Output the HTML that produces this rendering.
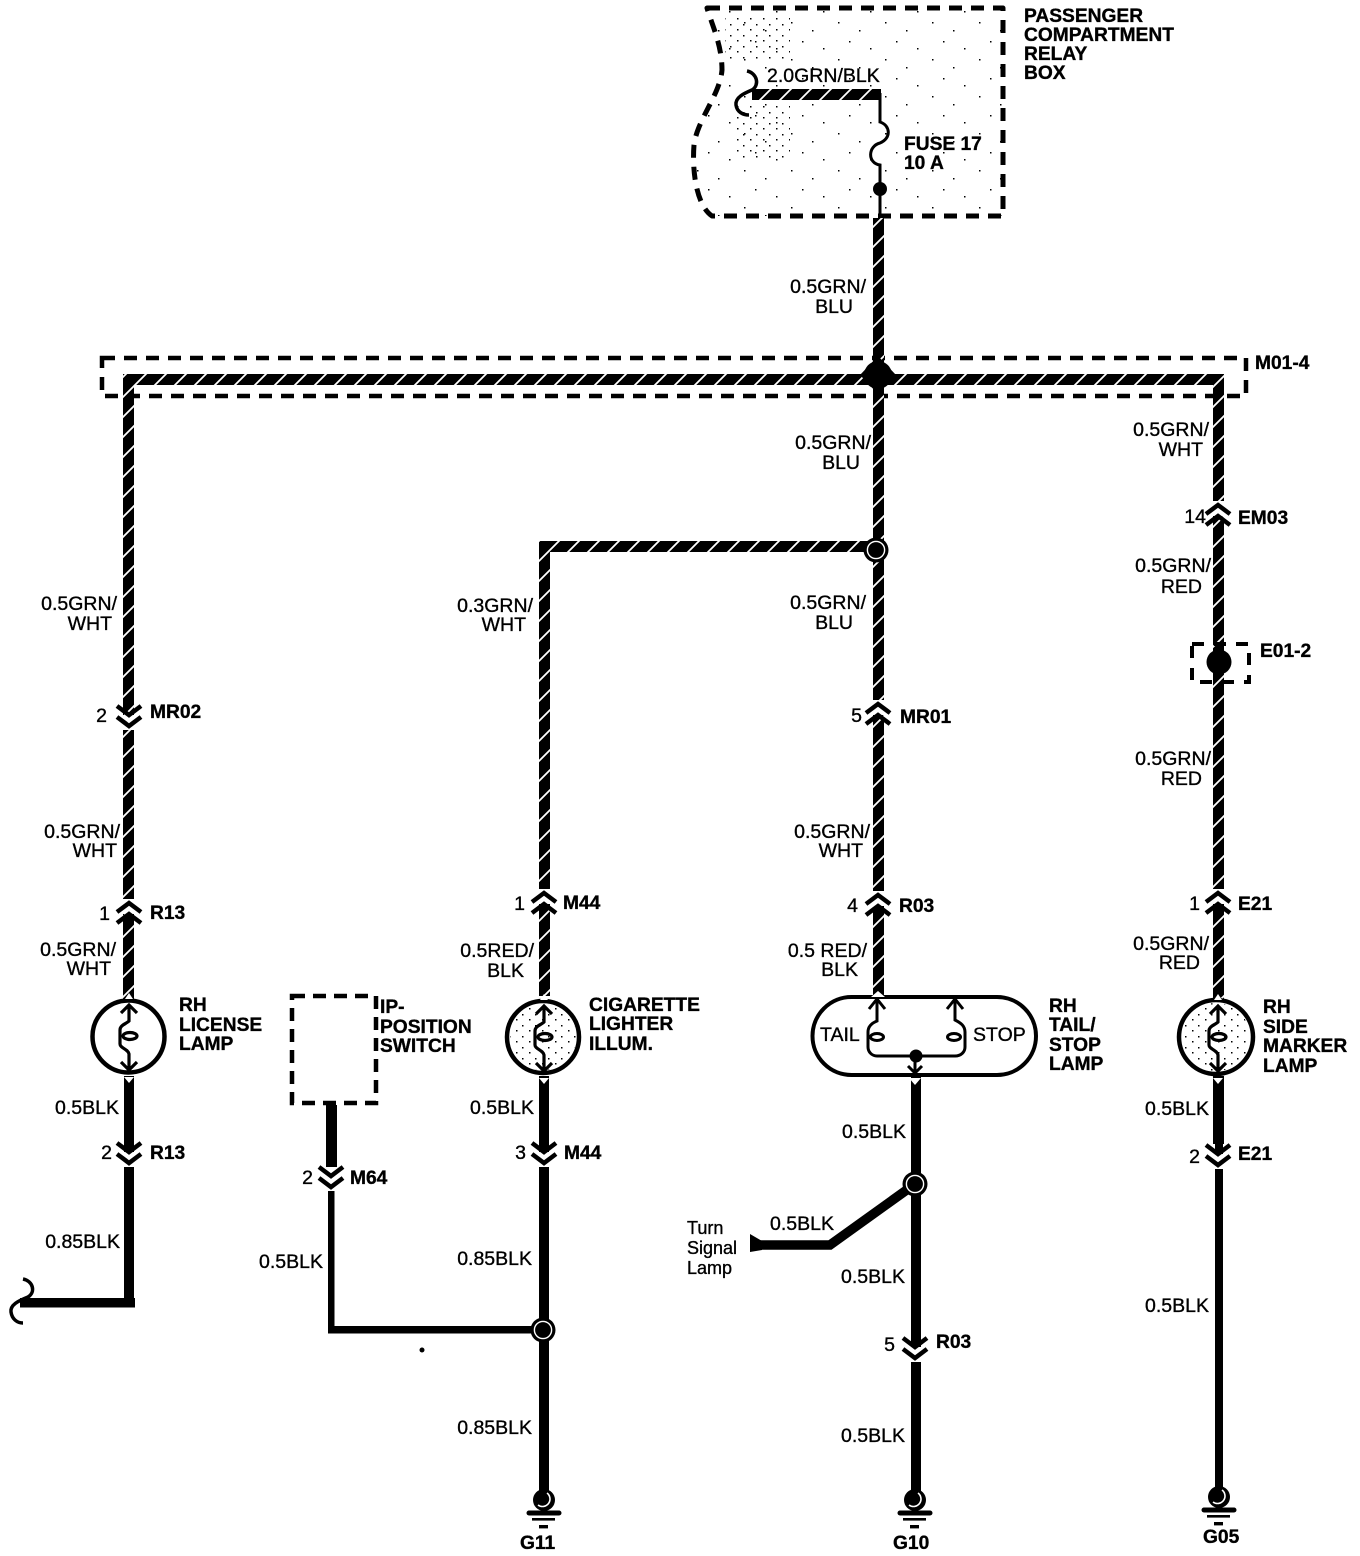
<!DOCTYPE html>
<html><head><meta charset="utf-8"><style>
html,body{margin:0;padding:0;background:#fff}
svg{display:block}
text{font-family:"Liberation Sans",sans-serif;fill:#000}
.b{font-weight:700;font-size:19.2px;stroke:#000;stroke-width:.35}
.r{font-size:19.5px;stroke:#000;stroke-width:.35}
.e{text-anchor:end}
</style></head><body>
<svg width="1360" height="1556" viewBox="0 0 1360 1556" xmlns="http://www.w3.org/2000/svg">
<defs>
<pattern id="st" patternUnits="userSpaceOnUse" width="20" height="20">
<rect width="20" height="20" fill="#000"/>
<path d="M-3,3 L3,-3 M0,20 L20,0 M17,23 L23,17" stroke="#fff" stroke-width="1.8"/>
</pattern>
<pattern id="dots" patternUnits="userSpaceOnUse" width="47" height="37">
<rect x="3" y="4" width="1.5" height="1.5" fill="#000"/>
<rect x="24" y="11" width="1.5" height="1.5" fill="#000"/>
<rect x="39" y="22" width="1.5" height="1.5" fill="#000"/>
<rect x="13" y="30" width="1.5" height="1.5" fill="#000"/>
</pattern>
<pattern id="dense" patternUnits="userSpaceOnUse" width="13" height="11">
<rect x="2" y="2" width="1.5" height="1.5" fill="#000"/><rect x="9" y="7" width="1.5" height="1.5" fill="#000"/>
</pattern>
<g id="up">
<rect x="-7" y="-14" width="14" height="15" fill="#fff"/>
<path d="M-12,-1 L0,-10 L12,-1" fill="none" stroke="#000" stroke-width="4.5"/>
<path d="M-12,10 L0,1 L12,10" fill="none" stroke="#000" stroke-width="4.5"/>
</g>
<g id="dn">
<rect x="-7" y="-1" width="14" height="15" fill="#fff"/>
<path d="M-12,-10 L0,-1 L12,-10" fill="none" stroke="#000" stroke-width="4.5"/>
<path d="M-12,1 L0,10 L12,1" fill="none" stroke="#000" stroke-width="4.5"/>
</g>
<g id="fil" fill="none" stroke="#000" stroke-width="3.2">
<path d="M-8,-23 L0,-31 L8,-23 M0,-31 L0,-15 C-3,-12 -9,-11 -9,-6 L-9,8 C-9,12 -1,13 0,18 L0,34 M-8,26 L0,34 L8,26"/>
<ellipse cx="1" cy="0" rx="7" ry="3.5"/>
<path d="M-4,-37 L4,-37 L0,-43Z" fill="#fff" stroke="none"/>
<path d="M-5,41 L5,41 L0,47Z" fill="#fff" stroke="none"/>
</g>
<g id="jn">
<circle r="12.5" fill="#000"/><circle r="8.6" fill="none" stroke="#fff" stroke-width="1.4"/>
</g>
<g id="gnd">
<circle cy="0" r="11" fill="#000"/>
<path d="M3,-7 A7.5,7.5 0 0 1 -6,5" fill="none" stroke="#fff" stroke-width="1.6"/>
<path d="M-15,13 L15,13" stroke="#000" stroke-width="5" stroke-linecap="round"/>
<rect x="-12" y="18" width="23" height="2.6" fill="#000"/>
<rect x="-5" y="25" width="9" height="3.4" fill="#000"/>
</g>
</defs>
<rect width="1360" height="1556" fill="#fff"/>

<!-- Relay box -->
<path d="M707,8 L1003,8 L1003,216 L712,216 C696,205 692,170 694,145 C697,120 720,95 722,70 C722,45 712,25 707,8Z" fill="url(#dots)"/>
<path d="M725,15 H790 V60 H725Z M735,105 H790 V160 H735Z" fill="url(#dense)"/>
<path d="M707,8 L1003,8 L1003,216 L712,216 C696,205 692,170 694,145 C697,120 720,95 722,70 C722,45 712,25 707,8Z" fill="none" stroke="#000" stroke-width="5" stroke-dasharray="13 9" stroke-linejoin="round"/>
<rect x="752" y="89" width="129" height="11" fill="url(#st)"/>
<path d="M747,71 C757,73 760,85 752,90 C745,93 735,97 736,105 C737,112 743,115 749,115" fill="none" stroke="#000" stroke-width="3.5"/>
<path d="M880,93 V122 C890,125 892,138 880,143 C868,146 867,163 880,165 V220" fill="none" stroke="#000" stroke-width="3"/>
<circle cx="880" cy="189" r="7" fill="#000"/>

<!-- Bus -->
<rect x="102" y="358" width="1144" height="38" fill="none" stroke="#000" stroke-width="4.5" stroke-dasharray="13 9"/>
<rect x="123" y="374" width="1100" height="11" fill="#fff"/>
<rect x="123" y="374" width="1100" height="11" fill="url(#st)"/>

<!-- Striped verticals -->
<rect x="123" y="374" width="11" height="625" fill="url(#st)"/>
<rect x="539" y="541" width="11" height="455" fill="url(#st)"/>
<rect x="539" y="541" width="338" height="11" fill="url(#st)"/>
<rect x="873" y="218" width="11" height="780" fill="url(#st)"/>
<rect x="1213" y="374" width="11" height="625" fill="url(#st)"/>

<polygon points="878,356 896,375 878,394 860,375" fill="#000"/>
<circle cx="878" cy="375" r="14" fill="#000"/>
<use href="#jn" x="876" y="550"/>

<!-- E01-2 -->
<rect x="1192" y="644" width="57" height="38" fill="none" stroke="#000" stroke-width="4" stroke-dasharray="12 10"/>
<circle cx="1219" cy="662" r="12.500" fill="#000"/>

<!-- Black wires -->
<rect x="124" y="1076" width="10" height="231" fill="#000"/>
<rect x="20" y="1298" width="115" height="9.500" fill="#000"/>
<path d="M23,1279 C33,1281 36,1292 28,1297 C18,1301 10,1305 11,1312 C12,1319 17,1323 23,1323" fill="none" stroke="#000" stroke-width="3.500"/>
<rect x="539" y="1076" width="10" height="420" fill="#000"/>
<rect x="326" y="1105" width="11" height="62" fill="#000"/>
<rect x="328" y="1180" width="6.500" height="152" fill="#000"/>
<rect x="328" y="1326" width="216" height="7.500" fill="#000"/>
<rect x="911" y="1076" width="10" height="420" fill="#000"/>
<rect x="1215" y="1076" width="8" height="415" fill="#000"/>
<rect x="1213" y="1076" width="11" height="68" fill="#000"/>
<path d="M760,1245 H830 L915,1184" fill="none" stroke="#000" stroke-width="9.500"/>
<polygon points="750,1234 762,1241 762,1250 750,1252" fill="#000"/>

<!-- Junctions -->
<use href="#jn" x="543" y="1330"/>
<use href="#jn" x="915" y="1184"/>
<circle cx="422" cy="1350" r="2.500" fill="#000"/>

<!-- IP box -->
<rect x="292" y="996" width="84" height="107" fill="none" stroke="#000" stroke-width="4.500" stroke-dasharray="13 8"/>

<!-- Lamps -->
<circle cx="128.500" cy="1036.500" r="36" fill="#fff" stroke="#000" stroke-width="4.500"/>
<use href="#fil" x="129" y="1036"/>
<circle cx="543" cy="1037" r="36" fill="#fff" stroke="#000" stroke-width="4.500"/>
<circle cx="543" cy="1037" r="33" fill="url(#dense)"/>
<use href="#fil" x="544" y="1037"/>
<circle cx="1216" cy="1037" r="37" fill="#fff" stroke="#000" stroke-width="4.500"/>
<circle cx="1216" cy="1037" r="34" fill="url(#dense)"/>
<use href="#fil" x="1218" y="1037"/>
<rect x="812.500" y="997" width="223.500" height="78" rx="39" fill="#fff" stroke="#000" stroke-width="4"/>
<g fill="none" stroke="#000" stroke-width="3">
<path d="M869,1009 L877,999 L885,1009 M877,999 V1021 C872,1023 868,1026 868,1032 V1047 C868,1052 872,1056 877,1056 H955 C961,1056 965,1052 965,1047 V1032 C965,1026 961,1023 955,1020 V999 M947,1009 L955,999 L963,1009"/>
<ellipse cx="877" cy="1037" rx="6.500" ry="3.500"/>
<ellipse cx="954" cy="1037" rx="6.500" ry="3.500"/>
<path d="M908,1066 L915,1073 L922,1066 M915,1060 V1073"/>
</g>
<circle cx="916" cy="1056" r="6.500" fill="#000"/>
<path d="M871,997 L878,991 L885,997Z M909,1078 L921,1078 L915,1085Z" fill="#fff"/>

<!-- Connectors -->
<use href="#dn" x="129" y="716"/>
<use href="#up" x="129" y="913"/>
<use href="#up" x="544" y="903"/>
<use href="#up" x="878" y="714"/>
<use href="#up" x="878" y="905"/>
<use href="#up" x="1218" y="515"/>
<use href="#up" x="1218" y="903"/>
<use href="#dn" x="129" y="1153"/>
<use href="#dn" x="331" y="1177"/>
<use href="#dn" x="544" y="1153"/>
<use href="#dn" x="915" y="1348"/>
<use href="#dn" x="1218" y="1155"/>

<!-- Grounds -->
<use href="#gnd" x="544" y="1500"/>
<use href="#gnd" x="915" y="1500"/>
<use href="#gnd" x="1219" y="1497"/>

<!-- Bold labels -->
<g class="b">
<text x="1024" y="22">PASSENGER</text><text x="1024" y="41">COMPARTMENT</text><text x="1024" y="60">RELAY</text><text x="1024" y="79">BOX</text>
<text x="904" y="150">FUSE 17</text><text x="904" y="169">10 A</text>
<text x="1255" y="369">M01-4</text>
<text x="1238" y="524">EM03</text>
<text x="1260" y="657">E01-2</text>
<text x="1238" y="910">E21</text>
<text x="1238" y="1160">E21</text>
<text x="1263" y="1013">RH</text><text x="1263" y="1033">SIDE</text><text x="1263" y="1052">MARKER</text><text x="1263" y="1072">LAMP</text>
<text x="1203" y="1543">G05</text>
<text x="900" y="723">MR01</text>
<text x="899" y="912">R03</text>
<text x="936" y="1348">R03</text>
<text x="1049" y="1012">RH</text><text x="1049" y="1031">TAIL/</text><text x="1049" y="1051">STOP</text><text x="1049" y="1070">LAMP</text>
<text x="893" y="1549">G10</text>
<text x="563" y="909">M44</text>
<text x="564" y="1159">M44</text>
<text x="589" y="1011">CIGARETTE</text><text x="589" y="1030">LIGHTER</text><text x="589" y="1050">ILLUM.</text>
<text x="520" y="1549">G11</text>
<text x="380" y="1013">IP-</text><text x="380" y="1033">POSITION</text><text x="380" y="1052">SWITCH</text>
<text x="350" y="1184">M64</text>
<text x="150" y="718">MR02</text>
<text x="150" y="919">R13</text>
<text x="150" y="1159">R13</text>
<text x="179" y="1011">RH</text><text x="179" y="1031">LICENSE</text><text x="179" y="1050">LAMP</text>
</g>

<!-- Regular labels -->
<g class="r">
<text x="767" y="82">2.0GRN/BLK</text>
<text x="770" y="1230">0.5BLK</text>
<text x="820" y="1041">TAIL</text><text x="973" y="1041">STOP</text>
<text x="687" y="1234" style="font-size:18px">Turn</text><text x="687" y="1254" style="font-size:18px">Signal</text><text x="687" y="1274" style="font-size:18px">Lamp</text>
</g>
<g class="r e">
<text class="r e" x="866" y="293">0.5GRN/</text><text class="r e" x="853" y="313">BLU</text>
<text class="r e" x="1209" y="436">0.5GRN/</text><text class="r e" x="1203" y="456">WHT</text>
<text class="r e" x="1206" y="523">14</text>
<text class="r e" x="1211" y="572">0.5GRN/</text><text class="r e" x="1202" y="593">RED</text>
<text class="r e" x="1211" y="765">0.5GRN/</text><text class="r e" x="1202" y="785">RED</text>
<text class="r e" x="1200" y="910">1</text>
<text class="r e" x="1209" y="950">0.5GRN/</text><text class="r e" x="1200" y="969">RED</text>
<text class="r e" x="1209" y="1115">0.5BLK</text>
<text class="r e" x="1200" y="1163">2</text>
<text class="r e" x="1209" y="1312">0.5BLK</text>
<text class="r e" x="871" y="449">0.5GRN/</text><text class="r e" x="860" y="469">BLU</text>
<text class="r e" x="866" y="609">0.5GRN/</text><text class="r e" x="853" y="629">BLU</text>
<text class="r e" x="862" y="722">5</text>
<text class="r e" x="870" y="838">0.5GRN/</text><text class="r e" x="863" y="857">WHT</text>
<text class="r e" x="858" y="912">4</text>
<text class="r e" x="867" y="957">0.5 RED/</text><text class="r e" x="858" y="976">BLK</text>
<text class="r e" x="906" y="1138">0.5BLK</text>
<text class="r e" x="905" y="1283">0.5BLK</text>
<text class="r e" x="895" y="1351">5</text>
<text class="r e" x="905" y="1442">0.5BLK</text>
<text class="r e" x="533" y="612">0.3GRN/</text><text class="r e" x="526" y="631">WHT</text>
<text class="r e" x="525" y="910">1</text>
<text class="r e" x="534" y="957">0.5RED/</text><text class="r e" x="524" y="977">BLK</text>
<text class="r e" x="534" y="1114">0.5BLK</text>
<text class="r e" x="526" y="1159">3</text>
<text class="r e" x="532" y="1265">0.85BLK</text>
<text class="r e" x="532" y="1434">0.85BLK</text>
<text class="r e" x="313" y="1184">2</text>
<text class="r e" x="323" y="1268">0.5BLK</text>
<text class="r e" x="117" y="610">0.5GRN/</text><text class="r e" x="112" y="630">WHT</text>
<text class="r e" x="107" y="722">2</text>
<text class="r e" x="120" y="838">0.5GRN/</text><text class="r e" x="117" y="857">WHT</text>
<text class="r e" x="110" y="920">1</text>
<text class="r e" x="116" y="956">0.5GRN/</text><text class="r e" x="111" y="975">WHT</text>
<text class="r e" x="119" y="1114">0.5BLK</text>
<text class="r e" x="112" y="1159">2</text>
<text class="r e" x="120" y="1248">0.85BLK</text>
</g>
</svg>
</body></html>
